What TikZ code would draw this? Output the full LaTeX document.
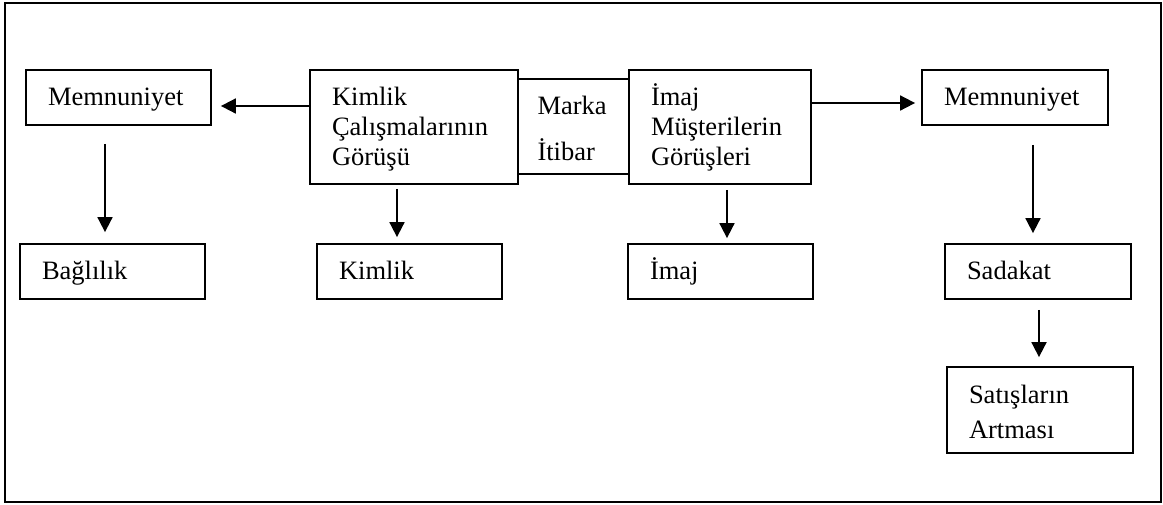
\documentclass[tikz,border=0pt]{standalone}
\usepackage{fontspec}
\setmainfont{Liberation Serif}
\usetikzlibrary{arrows.meta}
\begin{document}
\begin{tikzpicture}[x=1pt,y=-1pt,
  every node/.style={font=\fontsize{26.5}{30}\selectfont},
  bx/.style n args={3}{draw, line width=1.8pt, minimum width=#1, minimum height=#2,
     inner ysep=0pt, inner xsep=22pt, text width=#3, align=left,
     text height=18pt, text depth=2pt},
  arr/.style={line width=1.8pt, -{Triangle[length=15pt,width=15pt]}}]
\useasboundingbox (0,0) rectangle (1163,504);
\draw[line width=1.8pt] (5,3) rectangle (1161,502);

% top row
\node[bx={185pt}{55pt}{141pt}]  (memL)  at (118.5,97.5) {Memnuniyet};
\node[bx={208pt}{114pt}{164pt}, text depth=62pt] (kcal) at (414,127)
      {Kimlik\\Çalışmalarının\\Görüşü};
\node[bx={111pt}{95pt}{72pt}, inner xsep=19.5pt, text height=21pt, text depth=46pt]
      (marka) at (573.5,126.5) {Marka\\[16pt]İtibar};
\node[bx={182pt}{114pt}{138pt}, text depth=62pt] (imaj) at (720,127)
      {İmaj\\Müşterilerin\\Görüşleri};
\node[bx={186pt}{55pt}{142pt}]  (memR)  at (1015,97.5) {Memnuniyet};

% second row
\node[bx={185pt}{55pt}{141pt}]  (bag)   at (112.5,271.5) {Bağlılık};
\node[bx={185pt}{55pt}{141pt}]  (kim)   at (409.5,271.5) {Kimlik};
\node[bx={185pt}{55pt}{141pt}]  (imajS) at (720.5,271.5) {İmaj};
\node[bx={186pt}{55pt}{142pt}]  (sad)   at (1038,271.5) {Sadakat};
\node[bx={186pt}{86pt}{142pt}, text height=21pt, text depth=35pt]
      (sat)   at (1040,410) {Satışların\\[5pt]Artması};

% connectors
\draw[arr] ([yshift=21pt]kcal.west) -- ([xshift=9pt,yshift=-8.5pt]memL.east);
\draw[arr] ([xshift=-13.5pt,yshift=-18pt]memL.south) -- ([xshift=-7.5pt,yshift=11pt]bag.north);
\draw[arr] ([xshift=-17pt,yshift=-4pt]kcal.south) -- ([xshift=-12.5pt,yshift=6pt]kim.north);
\draw[arr] ([yshift=24pt]imaj.east) -- ([xshift=-6pt,yshift=-5.5pt]memR.west);
\draw[arr] ([xshift=7pt,yshift=-5pt]imaj.south) -- ([xshift=6.5pt,yshift=5pt]imajS.north);
\draw[arr] ([xshift=18pt,yshift=-19pt]memR.south) -- ([xshift=-5pt,yshift=10pt]sad.north);
\draw[arr] ([xshift=1pt,yshift=-10pt]sad.south) -- ([xshift=-1pt,yshift=9pt]sat.north);
\end{tikzpicture}
\end{document}
